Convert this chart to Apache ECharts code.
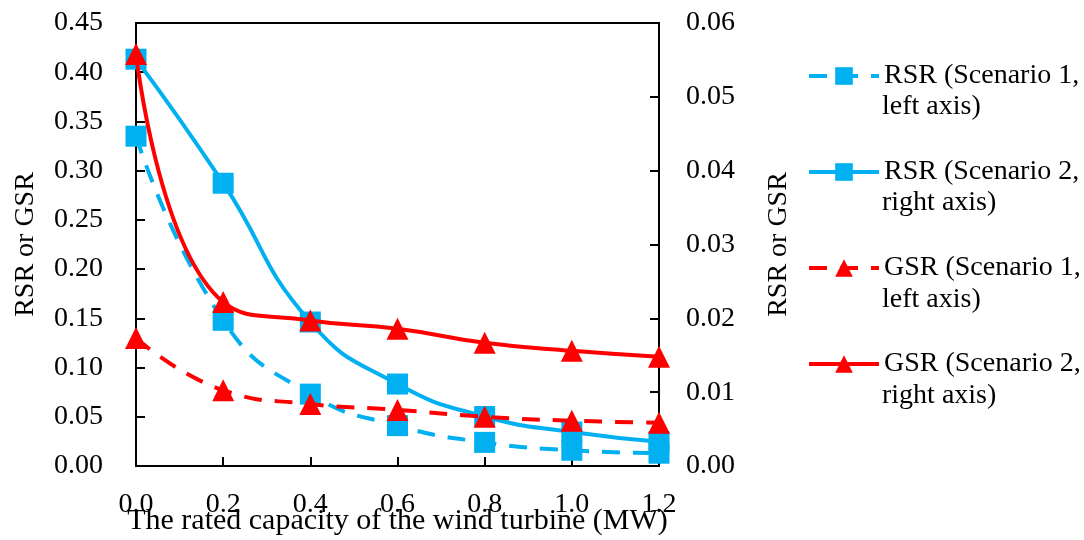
<!DOCTYPE html>
<html>
<head>
<meta charset="utf-8">
<style>
  html, body { margin: 0; padding: 0; background: #fff; }
  #chart { width: 1084px; height: 540px; }
</style>
<script src="https://cdn.jsdelivr.net/npm/echarts@6/dist/echarts.min.js"></script>
</head>
<body>
<div id="chart"></div>
<script>
// Rated capacity of the wind turbine (MW)
const capacity = [0.0, 0.2, 0.4, 0.6, 0.8, 1.0, 1.2];

// Scenario 1 values (left axis)
const rsrScenario1 = [0.335, 0.148, 0.073, 0.041, 0.024, 0.016, 0.013];
const gsrScenario1 = [0.130, 0.077, 0.063, 0.057, 0.050, 0.046, 0.044];

// Scenario 2 values (right axis)
const rsrScenario2 = [0.0551, 0.0383, 0.0195, 0.0111, 0.0067, 0.0046, 0.0033];
const gsrScenario2 = [0.0558, 0.0222, 0.0197, 0.0186, 0.0167, 0.0156, 0.0148];

// Legend labels, split over two lines
const legendFirstLines = ['RSR (Scenario 1,', 'RSR (Scenario 2,', 'GSR (Scenario 1,', 'GSR (Scenario 2,'];
const legendSecondLines = ['left axis)', 'right axis)', 'left axis)', 'right axis)'];
const seriesNames = legendFirstLines.map((a, i) => a + ' ' + legendSecondLines[i]);

const FONT = 'Liberation Serif';
const FS = 28;
const BLUE = '#00B0F0';
const RED = '#FF0000';
const DASH = [18, 13];

const pairs = (ys) => capacity.map((x, i) => [x, ys[i]]);

const chart = echarts.init(document.getElementById('chart'), null, { renderer: 'canvas' });

const axisLine = { show: true, lineStyle: { color: '#000', width: 2 } };
const axisTick = { show: true, inside: true, length: 9, lineStyle: { color: '#000', width: 2 } };
const labelStyle = { color: '#000', fontFamily: FONT, fontSize: FS };

function lineSeries(idx, data, yAxisIndex, color, dashed, symbol, size) {
  return {
    name: seriesNames[idx],
    type: 'line',
    yAxisIndex,
    data: pairs(data),
    smooth: 0.5,
    symbol,
    symbolSize: size,
    showSymbol: true,
    showAllSymbol: true,
    clip: false,
    lineStyle: { color, width: 4, type: dashed ? DASH : 'solid', cap: 'butt' },
    itemStyle: { color, borderWidth: 0 },
    emphasis: { disabled: true },
    z: 2 + idx
  };
}

// vertical centres of the second legend line for each entry
const secondLineCenters = [107, 203, 300, 396];

chart.setOption({
  animation: false,
  backgroundColor: '#fff',
  textStyle: { fontFamily: FONT, color: '#000' },
  grid: {
    left: 136, right: 425, top: 23, bottom: 74,
    containLabel: false,
    outerBoundsMode: 'none',
    show: true, borderColor: '#000', borderWidth: 2, backgroundColor: 'transparent'
  },
  legend: {
    orient: 'vertical',
    left: 807,
    top: 62,
    padding: 0,
    itemWidth: 70,
    itemHeight: 22,
    itemGap: 68,
    data: seriesNames,
    formatter: (name) => legendFirstLines[seriesNames.indexOf(name)],
    textStyle: { color: '#000', fontFamily: FONT, fontSize: FS },
    lineStyle: { width: 4 },
    selectedMode: false
  },
  graphic: legendSecondLines.map((t, i) => ({
    type: 'text',
    left: 882,
    top: secondLineCenters[i] - FS / 2,
    style: { text: t, fill: '#000', font: FS + 'px "' + FONT + '"' }
  })),
  xAxis: {
    type: 'value',
    min: 0, max: 1.2, interval: 0.2,
    name: 'The rated capacity of the wind turbine (MW)',
    nameLocation: 'middle',
    nameGap: 40,
    nameMoveOverlap: false,
    nameTextStyle: { color: '#000', fontFamily: FONT, fontSize: 30 },
    axisLine, axisTick,
    splitLine: { show: false },
    axisLabel: Object.assign({ margin: 25, formatter: (v) => v.toFixed(1) }, labelStyle)
  },
  yAxis: [
    {
      type: 'value',
      position: 'left',
      min: 0, max: 0.45, interval: 0.05,
      name: 'RSR or GSR',
      nameLocation: 'middle',
      nameRotate: 90,
      nameGap: 96,
      nameMoveOverlap: false,
      nameTextStyle: labelStyle,
      axisLine, axisTick,
      splitLine: { show: false },
      axisLabel: Object.assign({ margin: 33, formatter: (v) => v.toFixed(2) }, labelStyle)
    },
    {
      type: 'value',
      position: 'right',
      min: 0, max: 0.06, interval: 0.01,
      name: 'RSR or GSR',
      nameLocation: 'middle',
      nameRotate: 90,
      nameGap: 106,
      nameMoveOverlap: false,
      nameTextStyle: labelStyle,
      axisLine, axisTick,
      splitLine: { show: false },
      axisLabel: Object.assign({ margin: 27, formatter: (v) => v.toFixed(2) }, labelStyle)
    }
  ],
  series: [
    lineSeries(0, rsrScenario1, 0, BLUE, true, 'rect', 21),
    lineSeries(1, rsrScenario2, 1, BLUE, false, 'rect', 21),
    lineSeries(2, gsrScenario1, 0, RED, true, 'triangle', 22),
    lineSeries(3, gsrScenario2, 1, RED, false, 'triangle', 22)
  ]
});
</script>
</body>
</html>
